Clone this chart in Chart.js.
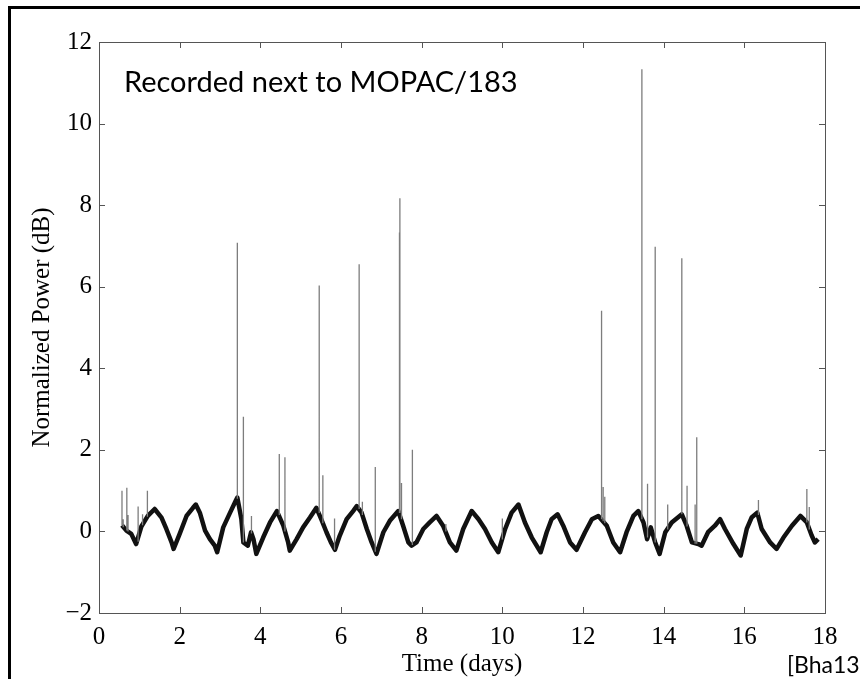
<!DOCTYPE html>
<html>
<head>
<meta charset="utf-8">
<script src="https://cdn.jsdelivr.net/npm/chart.js@4.4.1/dist/chart.umd.min.js"></script>
<style>
  html, body { margin: 0; padding: 0; background: #fff; }
  #wrap { position: relative; width: 860px; height: 679px; overflow: hidden; }
  #frame { position: absolute; left: 8px; top: 6px; width: 900px; height: 700px;
           border-left: 3px solid #000; border-top: 3px solid #000; }
  #cite { position: absolute; left: 787px; top: 650px; font: 23px Lato, sans-serif; color: #000; white-space: nowrap; }
</style>
</head>
<body>
<div id="wrap">
  <div id="frame"></div>
  <canvas id="chart" width="860" height="679"></canvas>
  <div id="cite">[Bha13]</div>
</div>
<script>
// baseline trace (days, dB)
const timeDays = [0.57, 0.68, 0.80, 0.92, 1.05, 1.21, 1.38, 1.55, 1.67, 1.80, 1.85, 2.00, 2.17, 2.33, 2.40,
  2.50, 2.63, 2.75, 2.87, 2.93, 3.08, 3.25, 3.39, 3.43, 3.53, 3.58, 3.69, 3.77, 3.83, 3.90,
  4.07, 4.24, 4.41, 4.57, 4.69, 4.73, 4.90, 5.06, 5.23, 5.39, 5.51, 5.64, 5.75, 5.85, 5.97,
  6.14, 6.30, 6.39, 6.51, 6.64, 6.76, 6.88, 7.05, 7.21, 7.42, 7.54, 7.67, 7.75, 7.87, 8.04,
  8.20, 8.37, 8.53, 8.70, 8.86, 9.03, 9.24, 9.41, 9.57, 9.74, 9.90, 10.07, 10.23, 10.40, 10.56,
  10.73, 10.95, 11.10, 11.22, 11.37, 11.51, 11.68, 11.84, 12.05, 12.22, 12.38, 12.59, 12.75, 12.92, 13.08,
  13.25, 13.37, 13.50, 13.59, 13.68, 13.79, 13.90, 14.04, 14.20, 14.45, 14.57, 14.70, 14.86, 14.94, 15.10,
  15.27, 15.40, 15.52, 15.73, 15.91, 16.06, 16.18, 16.32, 16.43, 16.64, 16.80, 16.97, 17.18, 17.39, 17.55,
  17.67, 17.75, 17.83];
const powerDb = [0.15, 0.02, -0.06, -0.31, 0.12, 0.38, 0.55, 0.34, 0.06, -0.27, -0.43, -0.06, 0.38, 0.58, 0.66,
  0.46, 0.02, -0.19, -0.35, -0.51, 0.10, 0.46, 0.75, 0.83, 0.30, -0.27, -0.35, -0.02, -0.19, -0.55,
  -0.15, 0.22, 0.50, 0.14, -0.27, -0.47, -0.19, 0.10, 0.34, 0.58, 0.30, -0.02, -0.27, -0.45, -0.10,
  0.30, 0.50, 0.62, 0.46, 0.06, -0.27, -0.55, -0.02, 0.26, 0.50, 0.14, -0.27, -0.35, -0.27, 0.06,
  0.22, 0.38, 0.14, -0.27, -0.47, 0.06, 0.50, 0.30, 0.06, -0.27, -0.51, 0.06, 0.46, 0.66, 0.22,
  -0.15, -0.51, -0.02, 0.30, 0.42, 0.14, -0.27, -0.45, -0.02, 0.30, 0.38, 0.14, -0.27, -0.51, -0.02,
  0.38, 0.50, 0.22, -0.19, 0.10, -0.27, -0.55, -0.02, 0.22, 0.42, 0.14, -0.27, -0.31, -0.35, -0.02,
  0.14, 0.30, 0.06, -0.31, -0.59, 0.06, 0.34, 0.46, 0.06, -0.27, -0.43, -0.15, 0.14, 0.38, 0.22,
  -0.10, -0.27, -0.19];

// impulsive spikes
const spikeDays = [0.57, 0.60, 0.69, 0.72, 0.97, 1.08, 1.20, 3.43, 3.58, 3.78, 4.47, 4.61, 5.46, 5.55, 5.84,
  6.45, 6.53, 6.85, 7.45, 7.46, 7.50, 7.77, 8.60, 10.00, 12.46, 12.50, 12.54, 13.46, 13.60, 13.79,
  14.10, 14.45, 14.58, 14.78, 14.82, 16.35, 17.55, 17.61];
const spikeTop = [1.00, 0.30, 1.07, 0.40, 0.61, 0.42, 1.00, 7.08, 2.81, 0.38, 1.90, 1.82, 6.03, 1.38, 0.32,
  6.55, 0.73, 1.58, 7.33, 8.17, 1.19, 2.00, 0.18, 0.32, 5.41, 1.09, 0.85, 11.33, 1.17, 6.98,
  0.66, 6.70, 1.12, 0.66, 2.31, 0.77, 1.04, 0.60];
const spikeBase = [0.15, 0.10, 0.02, 0.00, -0.25, 0.15, 0.36, 0.80, -0.27, -0.05, 0.40, 0.00, 0.45, 0.20, -0.45,
  0.55, 0.40, -0.50, 0.45, 0.45, 0.30, -0.33, 0.00, -0.20, 0.30, 0.25, 0.20, 0.30, -0.15, -0.27,
  0.05, 0.42, 0.12, -0.30, -0.30, 0.40, 0.22, 0.05];

const xTicks = [0, 2, 4, 6, 8, 10, 12, 14, 16, 18];
const yTicks = [-2, 0, 2, 4, 6, 8, 10, 12];

const trace = timeDays.map((d, i) => ({ x: d, y: powerDb[i] }));
const spikes = [];
spikeDays.forEach((d, i) => {
  spikes.push({ x: d, y: spikeBase[i] }, { x: d, y: spikeTop[i] }, { x: d, y: null });
});

const serif = "'Liberation Serif', 'Times New Roman', serif";

// matlab style box with inward ticks + label inside the plot
const boxPlugin = {
  id: 'box',
  afterDatasetsDraw(chart) {
    const { ctx, chartArea: a, scales } = chart;
    ctx.save();
    ctx.strokeStyle = '#555';
    ctx.lineWidth = 1;
    ctx.strokeRect(a.left + 0.5, a.top + 0.5, a.right - a.left, a.bottom - a.top);
    ctx.beginPath();
    xTicks.forEach(t => {
      const px = Math.round(scales.x.getPixelForValue(t)) + 0.5;
      ctx.moveTo(px, a.bottom); ctx.lineTo(px, a.bottom - 6);
      ctx.moveTo(px, a.top); ctx.lineTo(px, a.top + 6);
    });
    yTicks.forEach(t => {
      const py = Math.round(scales.y.getPixelForValue(t)) + 0.5;
      ctx.moveTo(a.left, py); ctx.lineTo(a.left + 6, py);
      ctx.moveTo(a.right, py); ctx.lineTo(a.right - 6, py);
    });
    ctx.stroke();
    ctx.fillStyle = '#000';
    ctx.font = "29px Lato, sans-serif";
    ctx.textBaseline = 'alphabetic';
    ctx.fillText('Recorded next to MOPAC/183', a.left + 25, a.top + 50);
    ctx.restore();
  }
};

new Chart(document.getElementById('chart'), {
  type: 'scatter',
  data: {
    datasets: [
      {
        data: spikes,
        showLine: true,
        spanGaps: false,
        borderColor: '#7d7d7d',
        borderWidth: 1.3,
        pointRadius: 0
      },
      {
        data: trace,
        showLine: true,
        borderColor: '#111',
        borderWidth: 4.5,
        borderJoinStyle: 'round',
        pointRadius: 0,
        tension: 0
      }
    ]
  },
  options: {
    responsive: false,
    animation: false,
    devicePixelRatio: 1,
    layout: { padding: { left: 0, top: 42, right: 35, bottom: 0 } },
    plugins: { legend: { display: false }, tooltip: { enabled: false } },
    scales: {
      x: {
        type: 'linear', min: 0, max: 18,
        afterBuildTicks: s => { s.ticks = xTicks.map(v => ({ value: v })); },
        afterFit: s => { s.height = 66; },
        grid: { display: false, drawTicks: false },
        border: { display: false },
        ticks: { color: '#000', padding: 9, font: { family: serif, size: 25 } },
        title: { display: true, text: 'Time (days)', color: '#000', padding: { top: 0, bottom: 0 },
                 font: { family: serif, size: 25 } }
      },
      y: {
        type: 'linear', min: -2, max: 12,
        afterBuildTicks: s => { s.ticks = yTicks.map(v => ({ value: v })); },
        afterFit: s => { s.width = 99; },
        grid: { display: false, drawTicks: false },
        border: { display: false },
        ticks: { color: '#000', padding: 7, font: { family: serif, size: 25 },
                 callback: v => String(v).replace('-', '\u2212') },
        title: { display: true, text: 'Normalized Power (dB)', color: '#000', padding: { top: 27, bottom: 0 },
                 font: { family: serif, size: 25 } }
      }
    }
  },
  plugins: [boxPlugin]
});
</script>
</body>
</html>
